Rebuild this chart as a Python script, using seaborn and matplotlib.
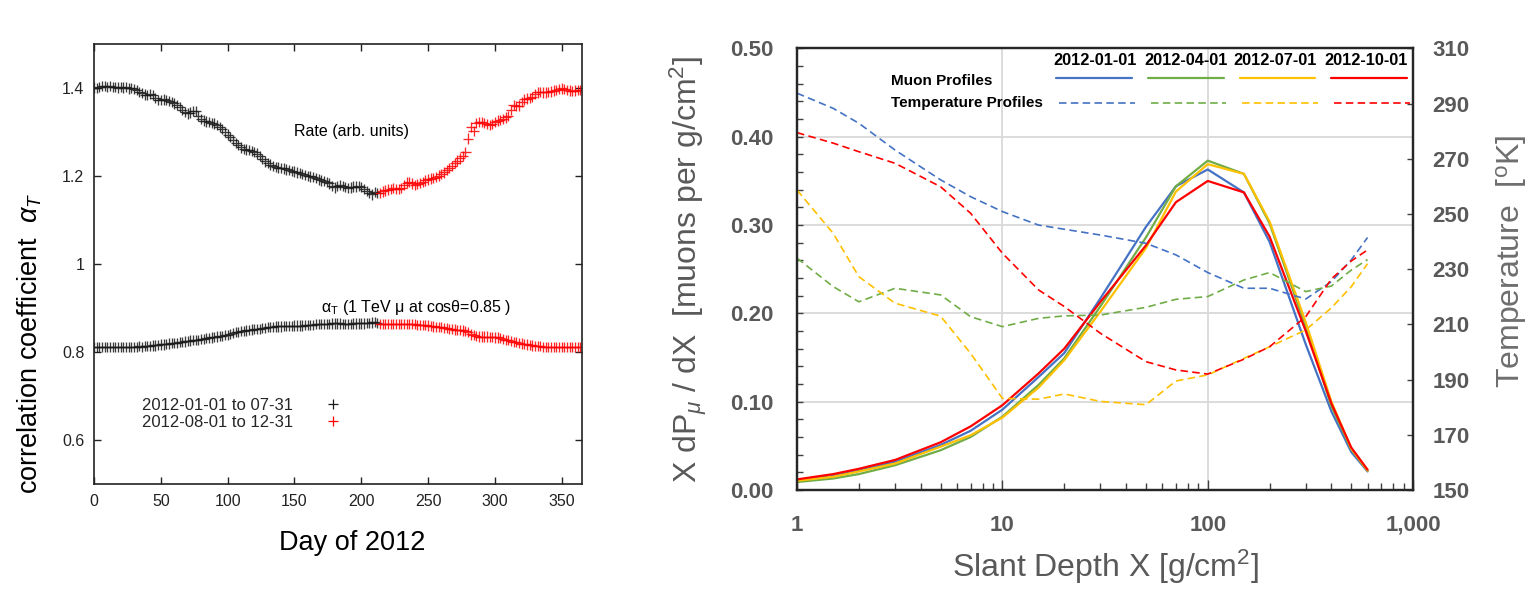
import matplotlib
matplotlib.use("Agg")
import matplotlib.pyplot as plt
import seaborn as sns
import pandas as pd
from matplotlib.lines import Line2D
from matplotlib.ticker import MultipleLocator, NullFormatter, LogLocator

# ---------------- data: left panel (day of 2012) ----------------
days_h1 = list(range(0, 213, 2))      # 2012-01-01 .. 07-31
days_h2 = list(range(214, 366, 2))    # 2012-08-01 .. 12-31

rate_h1 = [1.401, 1.400, 1.403, 1.404, 1.405, 1.403, 1.404, 1.402, 1.403, 1.401,
           1.402, 1.401, 1.402, 1.399, 1.400, 1.398, 1.396, 1.391, 1.388, 1.385,
           1.384, 1.386, 1.384, 1.378, 1.373, 1.372, 1.374, 1.372, 1.370, 1.368,
           1.365, 1.361, 1.356, 1.350, 1.346, 1.342, 1.344, 1.348, 1.347, 1.337,
           1.330, 1.326, 1.324, 1.323, 1.321, 1.319, 1.316, 1.312, 1.307, 1.300,
           1.294, 1.288, 1.281, 1.275, 1.270, 1.265, 1.262, 1.260, 1.259, 1.257,
           1.255, 1.251, 1.245, 1.239, 1.233, 1.229, 1.226, 1.223, 1.221, 1.219,
           1.218, 1.217, 1.215, 1.213, 1.211, 1.210, 1.208, 1.206, 1.204, 1.202,
           1.200, 1.199, 1.197, 1.195, 1.192, 1.190, 1.188, 1.186, 1.183, 1.178,
           1.174, 1.178, 1.180, 1.177, 1.175, 1.173, 1.174, 1.176, 1.176, 1.178,
           1.175, 1.170, 1.166, 1.161, 1.158, 1.163, 1.162]
rate_h2 = [1.162, 1.165, 1.167, 1.169, 1.170, 1.172, 1.171, 1.170, 1.173, 1.180,
           1.185, 1.186, 1.183, 1.180, 1.181, 1.184, 1.187, 1.190, 1.192, 1.194,
           1.196, 1.198, 1.201, 1.204, 1.208, 1.213, 1.218, 1.223, 1.229, 1.235,
           1.240, 1.245, 1.255, 1.285, 1.311, 1.303, 1.320, 1.323, 1.322, 1.320,
           1.318, 1.316, 1.318, 1.323, 1.326, 1.328, 1.330, 1.333, 1.337, 1.350,
           1.362, 1.359, 1.360, 1.368, 1.374, 1.376, 1.377, 1.380, 1.386, 1.390,
           1.391, 1.390, 1.390, 1.391, 1.392, 1.394, 1.395, 1.397, 1.399, 1.398,
           1.396, 1.394, 1.393, 1.394, 1.395, 1.396]
alpha_h1 = [0.812, 0.811, 0.811, 0.812, 0.812, 0.811, 0.811, 0.812, 0.812, 0.811,
            0.812, 0.812, 0.811, 0.812, 0.812, 0.812, 0.812, 0.813, 0.812, 0.813,
            0.813, 0.814, 0.815, 0.815, 0.816, 0.817, 0.817, 0.818, 0.819, 0.820,
            0.821, 0.821, 0.822, 0.823, 0.824, 0.825, 0.826, 0.827, 0.828, 0.828,
            0.829, 0.830, 0.831, 0.832, 0.833, 0.834, 0.835, 0.836, 0.837, 0.838,
            0.839, 0.841, 0.843, 0.845, 0.846, 0.847, 0.848, 0.849, 0.850, 0.851,
            0.852, 0.852, 0.853, 0.854, 0.855, 0.856, 0.856, 0.857, 0.858, 0.858,
            0.858, 0.859, 0.859, 0.859, 0.859, 0.860, 0.860, 0.860, 0.860, 0.861,
            0.861, 0.862, 0.862, 0.863, 0.863, 0.864, 0.864, 0.864, 0.864, 0.865,
            0.865, 0.865, 0.865, 0.864, 0.864, 0.864, 0.864, 0.865, 0.865, 0.865,
            0.865, 0.865, 0.866, 0.866, 0.867, 0.868, 0.866]
alpha_h2 = [0.864, 0.864, 0.864, 0.864, 0.864, 0.864, 0.864, 0.863, 0.863, 0.863,
            0.863, 0.863, 0.863, 0.863, 0.862, 0.862, 0.861, 0.861, 0.860, 0.859,
            0.858, 0.857, 0.856, 0.856, 0.855, 0.854, 0.853, 0.852, 0.851, 0.850,
            0.850, 0.849, 0.848, 0.846, 0.840, 0.838, 0.836, 0.835, 0.835, 0.835,
            0.835, 0.834, 0.834, 0.833, 0.833, 0.832, 0.830, 0.828, 0.827, 0.825,
            0.823, 0.822, 0.821, 0.819, 0.818, 0.817, 0.816, 0.815, 0.814, 0.813,
            0.813, 0.812, 0.812, 0.812, 0.812, 0.812, 0.812, 0.812, 0.812, 0.812,
            0.812, 0.812, 0.812, 0.812, 0.812, 0.812]
period_labels = ["2012-01-01 to 07-31", "2012-08-01 to 12-31"]
left_yticks = [0.6, 0.8, 1.0, 1.2, 1.4]
left_yticklabels = ["0.6", "0.8", "1", "1.2", "1.4"]
left_xticks = [0, 50, 100, 150, 200, 250, 300, 350]

# ---------------- data: right panel (slant depth) ----------------
depth = [1, 1.5, 2, 3, 5, 7, 10, 15, 20, 30, 50, 70, 100, 150, 200, 300, 400, 500, 600]
dates = ["2012-01-01", "2012-04-01", "2012-07-01", "2012-10-01"]
muon_jan = [0.011, 0.016, 0.022, 0.032, 0.051, 0.067, 0.091, 0.128, 0.155, 0.217,
            0.298, 0.344, 0.363, 0.337, 0.281, 0.165, 0.089, 0.043, 0.021]
muon_apr = [0.009, 0.013, 0.018, 0.028, 0.045, 0.060, 0.083, 0.119, 0.149, 0.208,
            0.286, 0.344, 0.373, 0.358, 0.302, 0.185, 0.095, 0.046, 0.022]
muon_jul = [0.0105, 0.015, 0.021, 0.030, 0.049, 0.062, 0.082, 0.116, 0.147, 0.202,
            0.274, 0.338, 0.369, 0.358, 0.304, 0.190, 0.100, 0.047, 0.022]
muon_oct = [0.012, 0.018, 0.024, 0.034, 0.054, 0.072, 0.096, 0.132, 0.160, 0.213,
            0.277, 0.326, 0.350, 0.337, 0.287, 0.180, 0.098, 0.048, 0.023]
temp_jan = [293.8, 288.3, 282.9, 273.2, 262.4, 256.3, 250.9, 246.0, 244.5, 242.4,
            239.4, 235.2, 228.8, 223.1, 223.1, 219.2, 225.5, 233.4, 241.5]
temp_apr = [234.0, 223.7, 218.2, 223.1, 220.7, 212.8, 209.2, 212.2, 213.1, 213.4,
            216.2, 219.1, 220.1, 226.1, 228.8, 221.9, 223.9, 229.7, 233.5]
temp_jul = [258.7, 243.0, 227.3, 217.7, 213.0, 199.5, 183.2, 182.9, 184.8, 182.1,
            180.9, 189.5, 191.7, 197.7, 201.9, 208.0, 216.0, 223.7, 232.0]
temp_oct = [279.5, 275.7, 272.6, 268.4, 259.9, 250.3, 235.8, 222.5, 216.5, 206.8,
            196.5, 193.5, 192.0, 197.4, 201.9, 212.8, 226.5, 233.0, 237.0]
muon_yticks = [0.0, 0.1, 0.2, 0.3, 0.4, 0.5]
muon_yticklabels = ["0.00", "0.10", "0.20", "0.30", "0.40", "0.50"]
temp_yticks = [150, 170, 190, 210, 230, 250, 270, 290, 310]
depth_xticks = [1, 10, 100, 1000]
depth_xticklabels = ["1", "10", "100", "1,000"]

# ---------------- style ----------------
sns.set_theme(style="white")
plt.rcParams["font.family"] = ["Liberation Sans", "DejaVu Sans"]
plt.rcParams["mathtext.fontset"] = "custom"
plt.rcParams["mathtext.rm"] = "Liberation Sans"
plt.rcParams["mathtext.it"] = "Liberation Sans:italic"
plt.rcParams["mathtext.bf"] = "Liberation Sans:bold"

colors = ["#4472C4", "#70AD47", "#FFC000", "#FF0000"]
black_pts = "#1a1a1a"
red_pts = "#ff0000"
gray_txt = "#595959"

fig = plt.figure(figsize=(15.39, 5.95), dpi=100)
ax1 = fig.add_axes([0.0611, 0.1866, 0.3169, 0.7395])
ax2 = fig.add_axes([0.5179, 0.1765, 0.4003, 0.742])

# ---------------- left panel ----------------
left_df = pd.DataFrame({
    "day": days_h1 + days_h2 + days_h1 + days_h2,
    "value": rate_h1 + rate_h2 + alpha_h1 + alpha_h2,
    "period": [period_labels[0]] * len(days_h1) + [period_labels[1]] * len(days_h2)
              + [period_labels[0]] * len(days_h1) + [period_labels[1]] * len(days_h2),
})
sns.scatterplot(data=left_df, x="day", y="value", hue="period",
                palette={period_labels[0]: black_pts, period_labels[1]: red_pts},
                marker="+", s=55, linewidth=0.95, alpha=0.85, legend=False, ax=ax1)

ax1.set_xlim(0, 365)
ax1.set_ylim(0.5, 1.5)
ax1.set_xticks(left_xticks, [str(t) for t in left_xticks])
ax1.set_yticks(left_yticks, left_yticklabels)
ax1.tick_params(axis="both", which="both", direction="in", length=5, width=1.0,
                top=True, right=True, bottom=True, left=True,
                labelsize=11.5, colors="#222222")
ax1.tick_params(axis="x", pad=7)
ax1.tick_params(axis="y", pad=7)
for sp in ax1.spines.values():
    sp.set_visible(True)
    sp.set_color("#222222")
    sp.set_linewidth(1.2)

ax1.set_xlabel("Day of 2012", fontsize=19.5, color="black")
ax1.xaxis.set_label_coords(0.529, -0.134)
ax1.xaxis.label.set_va("center")
ax1.set_ylabel(r"correlation coefficient  $\alpha_T$", fontsize=19.5, color="black")
ax1.yaxis.set_label_coords(-0.132, 0.32)
ax1.yaxis.label.set_va("center")

ax1.text(150, 1.30, "Rate (arb. units)", fontsize=11.5, va="center", color="black")
ax1.text(170, 0.90, r"α$_\mathrm{T}$ (1 TeV μ at cosθ=0.85 )", fontsize=11.5,
         va="center", color="black")

leg_handles = [Line2D([], [], ls="none", marker="+", ms=6.5, mew=0.9, color=black_pts),
               Line2D([], [], ls="none", marker="+", ms=6.5, mew=0.9, color=red_pts)]
ax1.legend(leg_handles, period_labels, loc="center left", bbox_to_anchor=(0.098, 0.1595),
           markerfirst=False, frameon=False, fontsize=12, handlelength=2.0,
           handletextpad=1.4, labelspacing=0.12, borderpad=0, borderaxespad=0)

# ---------------- right panel ----------------
muon_series = [muon_jan, muon_apr, muon_jul, muon_oct]
temp_series = [temp_jan, temp_apr, temp_jul, temp_oct]
muon_df = pd.DataFrame({
    "depth": depth * 4,
    "muon": sum(muon_series, []),
    "date": sum([[d] * len(depth) for d in dates], []),
})
temp_df = pd.DataFrame({
    "depth": depth * 4,
    "temp": sum(temp_series, []),
    "date": sum([[d] * len(depth) for d in dates], []),
})
pal = dict(zip(dates, colors))

ax2.set_axisbelow(True)
ax2.grid(True, which="major", axis="both", color="#D9D9D9", linewidth=1.3)
sns.lineplot(data=muon_df, x="depth", y="muon", hue="date", palette=pal,
             estimator=None, sort=False, linewidth=1.6, legend=False, ax=ax2)
ax2.set_xscale("log")
ax2.set_xlim(1, 1000)
ax2.set_ylim(0, 0.5)

ax2t = ax2.twinx()
sns.lineplot(data=temp_df, x="depth", y="temp", hue="date", palette=pal,
             estimator=None, sort=False, linewidth=1.2, legend=False, ax=ax2t)
for ln in ax2t.get_lines():
    ln.set_linestyle((0, (4.5, 2.6)))
ax2t.set_ylim(150, 310)
ax2t.set_xlim(1, 1000)

ax2.set_yticks(muon_yticks, muon_yticklabels, fontweight="bold")
ax2.yaxis.set_minor_locator(MultipleLocator(0.02))
ax2.set_xticks(depth_xticks, depth_xticklabels, fontweight="bold")
ax2.xaxis.set_minor_locator(LogLocator(base=10, subs=[2, 3, 4, 5, 6, 7, 8, 9]))
ax2.xaxis.set_minor_formatter(NullFormatter())
ax2t.set_yticks(temp_yticks, [str(t) for t in temp_yticks], fontweight="bold")

ax2.tick_params(axis="y", which="both", direction="in", length=4, width=1.0,
                left=True, right=False, color="#404040",
                labelsize=16, labelcolor=gray_txt, pad=17)
ax2.tick_params(axis="x", which="major", direction="in", length=7.5, width=1.0,
                bottom=True, top=False, color="#404040",
                labelsize=16, labelcolor=gray_txt, pad=18)
ax2.tick_params(axis="x", which="minor", direction="in", length=5, width=1.0,
                bottom=True, top=False, color="#404040")
ax2t.tick_params(axis="y", which="both", direction="in", length=4, width=1.0,
                 left=False, right=True, color="#404040",
                 labelsize=16, labelcolor=gray_txt, pad=14)
for a in (ax2, ax2t):
    for sp in a.spines.values():
        sp.set_visible(True)
        sp.set_color("#262626")
        sp.set_linewidth(1.6)

ax2.set_xlabel(r"Slant Depth X [g/cm$^2$]", fontsize=23, color=gray_txt)
ax2.xaxis.set_label_coords(0.5, -0.174)
ax2.xaxis.label.set_va("center")
ax2.set_ylabel(r"X dP$_\mu$ / dX  [muons per g/cm$^2$]", fontsize=23, color=gray_txt)
ax2.yaxis.set_label_coords(-0.175, 0.5)
ax2.yaxis.label.set_va("center")
ax2t.set_ylabel(r"Temperature  [$^\mathrm{o}$K]", fontsize=23, color="#6e6e6e")
ax2t.yaxis.set_label_coords(1.16, 0.519)
ax2t.yaxis.label.set_va("center")

# legend: header dates, row labels, and two rows of samples
hdr_x = [0.483, 0.632, 0.776, 0.924]
for d, hx in zip(dates, hdr_x):
    ax2t.text(hx, 0.972, d, transform=ax2t.transAxes, ha="center", va="center",
              fontsize=11.8, fontweight="bold", color="black")
ax2t.text(0.152, 0.926, "Muon Profiles", transform=ax2t.transAxes, ha="left",
          va="center", fontsize=11, fontweight="bold", color="black")
ax2t.text(0.152, 0.877, "Temperature Profiles", transform=ax2t.transAxes, ha="left",
          va="center", fontsize=11, fontweight="bold", color="black")

solid_h = [Line2D([], [], color=c, lw=1.6) for c in colors]
dash_h = [Line2D([], [], color=c, lw=1.2, ls=(0, (4.5, 2.6))) for c in colors]
leg_kw = dict(ncol=4, frameon=False, fontsize=10, handlelength=5.45,
              handletextpad=0.0, columnspacing=1.15, borderpad=0, borderaxespad=0,
              loc="center left")
leg1 = ax2t.legend(solid_h, [""] * 4, bbox_to_anchor=(0.421, 0.932), **leg_kw)
ax2t.add_artist(leg1)
leg2 = ax2t.legend(dash_h, [""] * 4, bbox_to_anchor=(0.425, 0.874), **leg_kw)

fig.savefig("out.png", dpi=100)
